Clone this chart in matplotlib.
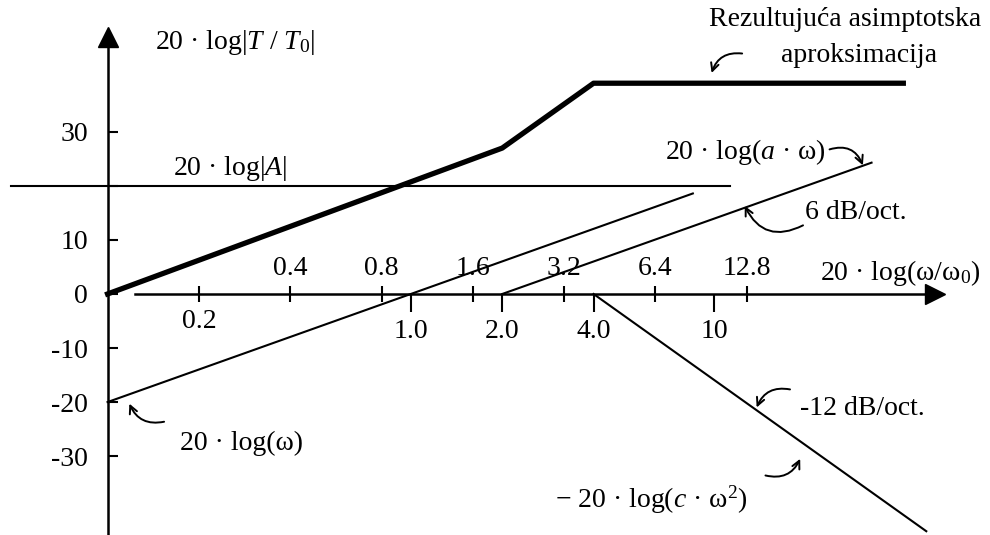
import matplotlib
matplotlib.use("Agg")
import matplotlib.pyplot as plt

plt.rcParams["font.family"] = ["Liberation Serif", "DejaVu Serif"]
plt.rcParams["mathtext.fontset"] = "custom"
plt.rcParams["mathtext.rm"] = "Liberation Serif"
plt.rcParams["mathtext.it"] = "Liberation Serif:italic"
plt.rcParams["font.size"] = 20

# asymptotes: frequency ratio w/w0 and level in dB
w_omega = [0.1, 8.5]            # 20 log(w), 6 dB/oct
db_omega = [-20, 18.6]
w_gain = [0.048, 11.3]          # 20 log|A|
db_gain = [20, 20]
w_zero = [2.0, 33.0]            # 20 log(a w), starts at w = 2
db_zero = [0, 24.3]
w_pole = [4.0, 50.0]            # -20 log(c w^2), -12 dB/oct from w = 4
db_pole = [0, -43.9]
w_total = [0.1, 2.0, 4.0, 42.0] # resulting asymptotic approximation
db_total = [0, 27, 39, 39]

ticks_up = [0.2, 0.4, 0.8, 1.6, 3.2, 6.4, 12.8]
ticks_down = [1.0, 2.0, 4.0, 10.0]
labels_top = ["0.4", "0.8", "1.6", "3.2", "6.4", "12.8"]
labels_bottom = ["0.2", "1.0", "2.0", "4.0", "10"]
y_ticks = [-30, -20, -10, 0, 10, 20, 30]
y_labels = ["-30", "-20", "-10", "0", "10", "", "30"]

fig = plt.figure(figsize=(9.9, 5.35), dpi=100)
ax = fig.add_axes([0, 0, 1, 1])
ax.set_xscale("log", base=2)
ax.set_xlim(0.0442, 81.1)
ax.set_ylim(-44.6, 54.4)

# axes through the origin of the sketch
for side in ["top", "right"]:
    ax.spines[side].set_visible(False)
ax.spines["left"].set_position(("data", 0.1))
ax.spines["bottom"].set_position(("data", 0))
ax.spines["left"].set_bounds(-44.6, 46)
ax.spines["bottom"].set_bounds(0.123, 49.5)
ax.spines["left"].set_linewidth(1.8)
ax.spines["bottom"].set_linewidth(1.8)
ax.plot([0.1], [47.6], marker="^", ms=14, color="black", clip_on=False)
ax.plot([53.4], [0], marker=">", ms=14, color="black", clip_on=False)

ax.set_xticks(ticks_up)
ax.set_xticks(ticks_down, minor=True)
ax.set_xticklabels([])
ax.set_xticklabels([], minor=True)
ax.tick_params(axis="x", which="major", direction="inout", length=12, width=1.5)
ax.tick_params(axis="x", which="minor", direction="out", length=13, width=1.5)
ax.set_yticks(y_ticks)
ax.set_yticklabels(y_labels)
ax.tick_params(axis="y", direction="in", length=7, width=1.5, pad=14)

for w, lab in zip(ticks_up[1:], labels_top):
    ax.annotate(lab, (w, 0), xytext=(0, 18), textcoords="offset points",
                ha="center", va="center")
for w, lab in zip([0.2] + ticks_down, labels_bottom):
    dy = -20 if w == 0.2 else -27
    ax.annotate(lab, (w, 0), xytext=(0, dy), textcoords="offset points",
                ha="center", va="center")

# asymptotes
ax.plot(w_gain, db_gain, color="black", lw=1.5)
ax.plot(w_omega, db_omega, color="black", lw=1.5)
ax.plot(w_zero, db_zero, color="black", lw=1.5)
ax.plot(w_pole, db_pole, color="black", lw=1.5)
ax.plot(w_total, db_total, color="black", lw=3.8, solid_joinstyle="round")

# labels
ax.text(0.143, 46.5, "20 · log|$T$ / $T_0$|", va="center")
ax.text(0.164, 23.3, "20 · log|$A$|", va="center")
ax.text(27.0, 50.7, "Rezultujuća asimptotska", ha="center", va="center")
ax.text(30.0, 44.2, "aproksimacija", ha="center", va="center")
ax.text(6.9, 26.3, "20 · log($a$ · ω)", va="center")
ax.text(19.9, 15.0, "6 dB/oct.", va="center")
ax.text(22.3, 3.8, "20 · log(ω/ω$_0$)", va="center")
ax.text(19.2, -21.1, "-12 dB/oct.", va="center")
ax.text(2.98, -38.1, "− 20 · log($c$ · ω$^2$)", va="center")
ax.text(0.173, -27.6, "20 · log(ω)", va="center")

arrow = dict(arrowstyle="->", color="black", lw=1.4, shrinkA=0, shrinkB=0,
             mutation_scale=14)
ax.annotate("", xy=(9.8, 40.9), xytext=(22, 14), textcoords="offset points",
            arrowprops=dict(arrow, connectionstyle="arc3,rad=0.4"))
ax.annotate("", xy=(30.9, 23.8), xytext=(-24, 11.5), textcoords="offset points",
            arrowprops=dict(arrow, connectionstyle="arc3,rad=-0.45"))
ax.annotate("", xy=(12.6, 16.3), xytext=(42, -14), textcoords="offset points",
            arrowprops=dict(arrow, connectionstyle="arc3,rad=-0.5"))
ax.annotate("", xy=(13.8, -21.0), xytext=(24, 13), textcoords="offset points",
            arrowprops=dict(arrow, connectionstyle="arc3,rad=0.4"))
ax.annotate("", xy=(19.2, -30.5), xytext=(-25, -12), textcoords="offset points",
            arrowprops=dict(arrow, connectionstyle="arc3,rad=0.4"))
ax.annotate("", xy=(0.118, -20.3), xytext=(25, -13), textcoords="offset points",
            arrowprops=dict(arrow, connectionstyle="arc3,rad=-0.4"))

fig.savefig("out.png", dpi=100)
